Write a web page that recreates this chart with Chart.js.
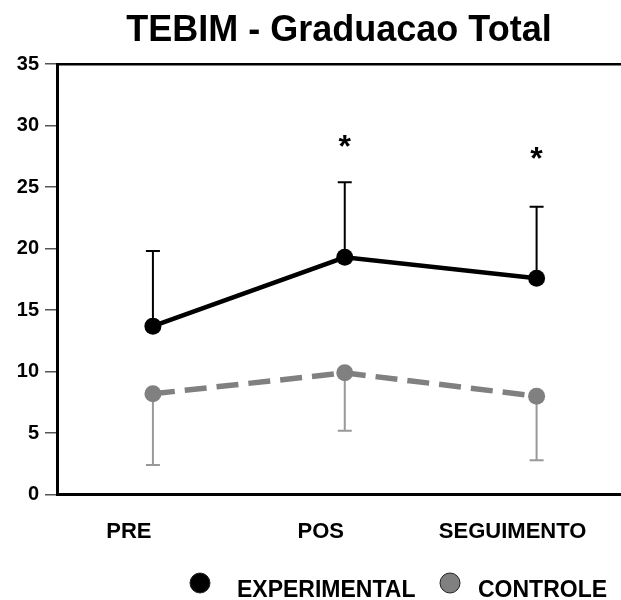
<!DOCTYPE html>
<html><head><meta charset="utf-8">
<script src="https://cdn.jsdelivr.net/npm/chart.js@4"></script>
<style>html,body{margin:0;padding:0;background:#fff;overflow:hidden}</style>
</head><body>
<canvas id="c" width="621" height="600"></canvas>
<script>
const categories = ['PRE', 'POS', 'SEGUIMENTO'];
const experimental = [13.7, 19.3, 17.6];
const experimentalSD = [6.1, 6.1, 5.8];
const controle = [8.2, 9.9, 8.0];
const controleSD = [5.8, 4.7, 5.2];
const significance = [null, 28.6, 27.6];
const yTicks = [0, 5, 10, 15, 20, 25, 30, 35];

const FONT = 'Liberation Sans, Arial, sans-serif';

const errorBars = {
  id: 'errorBars',
  beforeDatasetsDraw(chart) {
    const { ctx, scales: { x, y } } = chart;
    chart.data.datasets.forEach(ds => {
      ctx.save();
      ctx.strokeStyle = ds.errorColor;
      ctx.lineWidth = 2;
      ds.data.forEach((pt, i) => {
        const px = x.getPixelForValue(pt.x);
        const py = y.getPixelForValue(pt.y);
        const end = ds.errorDir === 'up' ? pt.y + ds.sd[i] : pt.y - ds.sd[i];
        const ey = y.getPixelForValue(end);
        ctx.beginPath();
        ctx.moveTo(px, py); ctx.lineTo(px, ey);
        ctx.moveTo(px - 7, ey); ctx.lineTo(px + 7, ey);
        ctx.stroke();
      });
      ctx.restore();
    });
  }
};

const sigMarks = {
  id: 'sigMarks',
  afterDatasetsDraw(chart) {
    const { ctx, scales: { x, y } } = chart;
    const size = 32;
    ctx.save();
    ctx.fillStyle = '#000';
    ctx.font = 'bold ' + size + 'px ' + FONT;
    ctx.textAlign = 'center';
    ctx.textBaseline = 'alphabetic';
    significance.forEach((v, i) => {
      if (v == null) return;
      ctx.fillText('*', x.getPixelForValue(i), y.getPixelForValue(v) + 0.43 * size);
    });
    ctx.restore();
  }
};

const customLegend = {
  id: 'customLegend',
  afterDraw(chart) {
    const { ctx } = chart;
    const circleX = [200, 450];
    const textX = [237, 478];
    const cy = 583;
    ctx.save();
    chart.data.datasets.forEach((ds, i) => {
      ctx.beginPath();
      ctx.arc(circleX[i], cy, 10, 0, Math.PI * 2);
      ctx.fillStyle = ds.pointBackgroundColor;
      ctx.fill();
      ctx.lineWidth = 1;
      ctx.strokeStyle = '#222';
      ctx.stroke();
      ctx.fillStyle = '#000';
      ctx.font = 'bold 23px ' + FONT;
      ctx.textAlign = 'left';
      ctx.textBaseline = 'alphabetic';
      ctx.fillText(ds.label, textX[i], 597);
    });
    ctx.restore();
  }
};

const noSidePad = s => { s.paddingLeft = 0; s.paddingRight = 0; };

new Chart(document.getElementById('c'), {
  type: 'line',
  data: {
    datasets: [
      {
        label: 'EXPERIMENTAL',
        data: experimental.map((v, i) => ({ x: i, y: v })),
        sd: experimentalSD, errorDir: 'up', errorColor: '#000',
        borderColor: '#000', borderWidth: 4.5,
        pointRadius: 8.5, pointBackgroundColor: '#000', pointBorderWidth: 0,
        tension: 0
      },
      {
        label: 'CONTROLE',
        data: controle.map((v, i) => ({ x: i, y: v })),
        sd: controleSD, errorDir: 'down', errorColor: '#999',
        borderColor: '#808080', borderWidth: 5.5, borderDash: [22, 10],
        pointRadius: 8.5, pointBackgroundColor: '#808080', pointBorderWidth: 0,
        tension: 0
      }
    ]
  },
  options: {
    responsive: false,
    animation: false,
    layout: { autoPadding: false, padding: { left: 0, right: 0, top: 0, bottom: 31 } },
    plugins: {
      legend: { display: false },
      tooltip: { enabled: false },
      title: {
        display: true,
        text: 'TEBIM - Graduacao Total',
        fullSize: false,
        color: '#000',
        font: { family: FONT, size: 36, weight: 'bold' },
        padding: { top: 9, bottom: 12 }
      }
    },
    scales: {
      x: {
        type: 'linear', position: 'bottom', min: -0.5, max: 2.44,
        afterBuildTicks: s => { s.ticks = categories.map((_, i) => ({ value: i })); },
        afterFit: noSidePad,
        ticks: {
          callback: v => categories[v],
          color: '#000', font: { family: FONT, size: 22, weight: 'bold' },
          padding: 24, labelOffset: -24, autoSkip: false, maxRotation: 0
        },
        grid: { display: false, drawTicks: false },
        border: { display: true, color: '#000', width: 3 }
      },
      x2: {
        type: 'linear', axis: 'x', position: 'top', min: -0.5, max: 2.44,
        afterFit: noSidePad,
        ticks: { display: false },
        grid: { display: false, drawTicks: false },
        border: { display: true, color: '#000', width: 2.5 }
      },
      y: {
        min: 0, max: 35,
        afterBuildTicks: s => { s.ticks = yTicks.map(v => ({ value: v })); },
        afterFit: s => { s.width = 57; s.paddingTop = 0; s.paddingBottom = 0; },
        ticks: { color: '#000', font: { family: FONT, size: 20, weight: 'bold' }, padding: 6 },
        grid: { drawOnChartArea: false, drawTicks: true, tickLength: 12, color: '#555', lineWidth: 1.5 },
        border: { color: '#000', width: 3 }
      }
    }
  },
  plugins: [errorBars, sigMarks, customLegend]
});
</script>
</body></html>
